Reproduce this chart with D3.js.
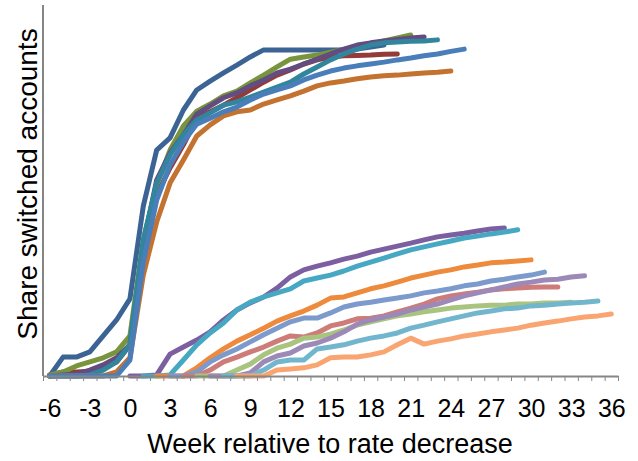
<!DOCTYPE html>
<html>
<head>
<meta charset="utf-8">
<script src="https://cdn.jsdelivr.net/npm/d3@7"></script>
<style>
  body { margin: 0; background: #fff; }
  text { font-family: Arial, "Liberation Sans", sans-serif; fill: #000; }
</style>
</head>
<body>
<div id="chart"></div>
<script>
  // week labels on the category axis
  var weekTicks = d3.range(-6, 37, 3);

  // upper cohort lines, all start at week -6
  var upDarkBlue = [0, 5.1, 5.1, 6.5, 10.8, 15.1, 20.8, 45.8, 60.9, 64.2, 71.7, 77.1, 79.5, 81.7, 83.8, 86.0, 87.9, 87.9, 87.9, 87.9, 87.9, 87.9, 87.9, 88.1, 88.7, 89.2];
  var upRed = [0.3, 1.1, 1.1, 1.3, 2.2, 3.8, 8.4, 34.0, 48.8, 56.1, 62.3, 69.5, 71.2, 73.0, 75.0, 77.1, 79.2, 81.1, 82.5, 84.1, 85.2, 86.0, 86.3, 86.4, 86.5, 86.7, 86.8];
  var upGreen = [0.3, 1.1, 2.7, 3.8, 4.9, 6.5, 10.8, 36.7, 51.5, 60.9, 67.4, 71.4, 73.3, 75.5, 76.8, 79.0, 81.1, 83.3, 85.4, 86.0, 86.5, 87.3, 88.0, 88.7, 89.5, 90.3, 91.1, 91.9];
  var upPurple = [0, 0.3, 0.5, 1.6, 3.0, 4.9, 8.4, 35.3, 52.8, 60.1, 65.0, 70.6, 72.8, 75.0, 76.3, 78.2, 79.8, 81.7, 82.7, 84.1, 85.4, 86.8, 88.1, 89.2, 89.8, 90.3, 90.7, 91.1, 91.4];
  var upTeal = [0, 0, 0, 0.3, 1.6, 3.8, 8.4, 36.7, 52.0, 59.6, 65.0, 69.0, 70.9, 73.0, 73.9, 75.2, 76.5, 77.9, 79.2, 81.4, 83.3, 85.2, 86.8, 88.1, 89.2, 89.8, 90.0, 90.2, 90.3, 90.6];
  var upOrange = [0, 0, 0, 0, 0, 1.1, 4.9, 27.2, 41.5, 52.0, 58.2, 64.7, 67.7, 70.1, 71.2, 71.7, 73.3, 74.4, 75.5, 76.8, 78.2, 79.0, 79.5, 80.1, 80.6, 80.9, 81.1, 81.4, 81.7, 81.9, 82.2];
  var upBlue = [0, 0, 0, 0, 0, 0, 4.3, 30.7, 47.4, 56.9, 63.1, 67.9, 69.5, 71.2, 72.5, 74.4, 76.0, 77.1, 78.2, 79.8, 81.1, 82.2, 83.0, 83.6, 84.1, 84.6, 85.2, 85.7, 86.3, 86.8, 87.5, 88.1];

  // lower cohort lines, each starts one week later than the previous
  var lowPurple = [0, 0, 0.3, 5.9, 7.8, 9.7, 11.9, 15.1, 17.8, 19.7, 21.3, 23.7, 26.7, 28.6, 29.6, 30.5, 31.5, 32.3, 33.4, 34.2, 35.0, 35.8, 36.7, 37.5, 38.0, 38.5, 39.1, 39.6, 39.9];
  var lowAqua = [0, 0, 0.3, 4.3, 8.4, 11.6, 14.3, 17.8, 19.9, 21.3, 22.4, 23.5, 25.6, 26.4, 27.2, 28.3, 29.6, 30.7, 31.8, 32.9, 34.0, 34.8, 35.6, 36.4, 37.2, 37.7, 38.3, 38.8, 39.4];
  var lowOrange = [0, 0, 0, 2.2, 4.9, 7.3, 9.4, 11.1, 12.9, 14.8, 16.2, 17.5, 19.1, 21.0, 21.3, 22.4, 23.5, 24.3, 25.3, 26.4, 27.2, 28.0, 28.6, 29.4, 29.9, 30.5, 30.7, 31.0, 31.3];
  var lowLightBlue = [0, 0, 1.1, 3.8, 5.7, 7.3, 9.2, 11.1, 12.9, 14.6, 15.6, 15.6, 17.0, 18.6, 19.4, 19.9, 20.5, 21.0, 21.6, 22.4, 22.9, 23.5, 24.3, 24.8, 25.6, 26.1, 26.7, 27.2, 28.0];
  var lowLightRed = [0, 0, 1.6, 3.8, 5.1, 6.5, 7.8, 9.4, 10.8, 10.5, 11.6, 13.5, 14.3, 15.4, 15.6, 16.2, 17.3, 18.3, 19.4, 20.8, 21.6, 22.1, 22.6, 23.2, 23.5, 23.7, 23.9, 24.0, 24.0];
  var lowLightGreen = [0, 0, 0, 1.6, 3.2, 5.7, 7.5, 8.6, 10.2, 10.5, 11.3, 12.4, 13.7, 14.6, 15.4, 16.2, 16.7, 17.3, 17.8, 18.3, 18.6, 18.9, 19.1, 19.1, 19.4, 19.4, 19.7, 19.7, 19.9];
  var lowLightPurple = [0, 0, 0, 0.8, 3.8, 5.4, 6.2, 8.1, 8.9, 10.2, 11.9, 14.0, 15.1, 15.9, 16.7, 17.8, 18.6, 19.4, 20.5, 21.6, 22.4, 23.2, 24.0, 24.8, 25.3, 25.9, 26.1, 26.7, 27.0];
  var lowLightAqua = [0, 0, 0, 1.6, 3.8, 4.3, 4.3, 7.3, 7.8, 8.4, 9.4, 10.2, 10.8, 11.6, 12.9, 13.7, 14.6, 15.4, 16.2, 17.0, 17.5, 18.1, 18.3, 18.9, 19.1, 19.4, 19.7, 19.9, 20.2];
  var lowLightOrange = [0, 0, 0, 1.6, 1.9, 2.2, 3.0, 4.9, 5.1, 5.1, 5.7, 6.5, 8.4, 10.2, 8.6, 9.4, 10.0, 10.8, 11.3, 11.9, 12.4, 12.9, 13.7, 14.3, 14.8, 15.4, 15.9, 16.2, 16.7];

  var seriesValues = [upDarkBlue, upRed, upGreen, upPurple, upTeal, upOrange, upBlue,
                      lowPurple, lowAqua, lowOrange, lowLightBlue, lowLightRed,
                      lowLightGreen, lowLightPurple, lowLightAqua, lowLightOrange];
  var seriesStart = [-6, -6, -6, -6, -6, -6, -6, 0, 1, 2, 3, 4, 5, 6, 7, 8];

  var seriesColors = ['#3b6494', '#943a38', '#78953d', '#634c80', '#31869e', '#c4722f', '#4a7ebb',
                      '#7c5fa0', '#46a8c2', '#ee8a3b', '#7c9acb', '#cd7c79',
                      '#a9c47f', '#9c89b8', '#72b6cd', '#f9a571'];

  var W = 638, H = 461;
  var plotLeft = 43, plotRight = 618, plotTop = 5, plotBottom = 376;

  var svg = d3.select('#chart')
              .append('svg')
              .attr('width', W)
              .attr('height', H);

  var x = d3.scaleLinear().domain([-6.5, 36.5]).range([plotLeft, plotRight]);
  var y = d3.scaleLinear().domain([0, 100]).range([plotBottom, plotTop]);

  // lines
  var line = d3.line()
               .x(function(d){ return x(d.w); })
               .y(function(d){ return y(d.v); });

  var data = seriesValues.map(function(vals, i){
    return vals.map(function(v, j){ return { w: seriesStart[i] + j, v: v }; });
  });

  svg.append('g').selectAll('path')
     .data(data)
     .enter().append('path')
     .attr('d', line)
     .attr('fill', 'none')
     .attr('stroke', function(d, i){ return seriesColors[i]; })
     .attr('stroke-width', 5)
     .attr('stroke-linejoin', 'round')
     .attr('stroke-linecap', 'round');

  // y axis: just the line
  svg.append('line')
     .attr('x1', plotLeft).attr('x2', plotLeft)
     .attr('y1', plotTop).attr('y2', plotBottom)
     .attr('stroke', '#868686')
     .attr('stroke-width', 2);

  // x axis: ticks between categories
  var xTicks = svg.append('g')
                  .attr('transform', 'translate(0,' + plotBottom + ')')
                  .call(d3.axisBottom(x)
                          .tickValues(d3.range(-6.5, 37, 1))
                          .tickFormat('')
                          .tickSize(5)
                          .tickSizeOuter(0));
  xTicks.select('.domain').attr('stroke', '#868686').attr('stroke-width', 2);
  xTicks.selectAll('.tick line').attr('stroke', '#868686').attr('stroke-width', 1);

  var xLabels = svg.append('g')
                   .attr('transform', 'translate(0,' + plotBottom + ')')
                   .call(d3.axisBottom(x)
                           .tickValues(weekTicks)
                           .tickFormat(function(d){ return String(d); })
                           .tickSize(0)
                           .tickPadding(23));
  xLabels.select('.domain').remove();
  xLabels.selectAll('text')
         .attr('font-size', 25)
         .attr('font-family', 'Arial, "Liberation Sans", sans-serif')
         .attr('fill', '#000');

  // titles
  svg.append('text')
     .attr('x', 330)
     .attr('y', 453)
     .attr('text-anchor', 'middle')
     .attr('font-size', 27)
     .text('Week relative to rate decrease');

  svg.append('text')
     .attr('transform', 'translate(37,184) rotate(-90)')
     .attr('text-anchor', 'middle')
     .attr('font-size', 28)
     .text('Share switched accounts');
</script>
</body>
</html>
